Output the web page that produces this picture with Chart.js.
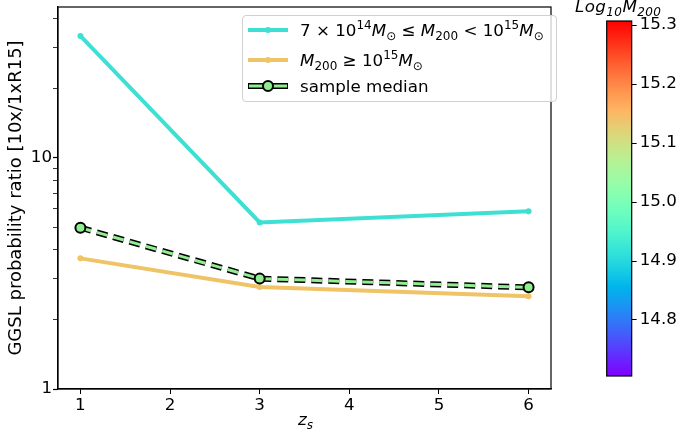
<!DOCTYPE html>
<html>
<head>
<meta charset="utf-8">
<script src="https://cdn.jsdelivr.net/npm/chart.js@4.4.1/dist/chart.umd.min.js"></script>
<style>
    body { margin: 0; background: #fff; font-family: "DejaVu Sans", sans-serif; }
    #wrap { position: relative; width: 680px; height: 434px; }
    #main { position: absolute; left: 0; top: 0; }
    #cbar { position: absolute; left: 600px; top: 0; }
    .legend {
        position: absolute; left: 242px; top: 15px; width: 315px; height: 87px;
        border: 1px solid #d0d0d0; border-radius: 4px; background: rgba(255,255,255,0.8);
        box-sizing: border-box; font-size: 16.7px; color: #000;
    }
    .row { position: absolute; left: 0; height: 24px; display: flex; align-items: center; white-space: nowrap; }
    .row svg { margin-left: 5px; margin-right: 12px; }
    sub, sup { font-size: 12px; line-height: 0; }
    .xt { position: absolute; left: 298px; top: 409px; font-size: 16.7px; font-style: italic; }
    .ct { position: absolute; left: 575px; top: -4px; font-size: 16.7px; font-style: italic; letter-spacing: 0.4px; }
</style>
</head>
<body>
<div id="wrap">
    <canvas id="main" width="680" height="434"></canvas>
    <canvas id="cbar" width="80" height="434"></canvas>
    <div class="legend">
        <div class="row" style="top:2px">
            <svg width="40" height="10"><line x1="0" y1="5" x2="40" y2="5" stroke="#3ee0d4" stroke-width="4"/><circle cx="20" cy="5" r="3" fill="#3ee0d4"/></svg>
            <span>7 × 10<sup>14</sup><i>M</i><sub>⊙</sub> ≤ <i>M</i><sub>200</sub> &lt; 10<sup>15</sup><i>M</i><sub>⊙</sub></span>
        </div>
        <div class="row" style="top:32px">
            <svg width="40" height="10"><line x1="0" y1="5" x2="40" y2="5" stroke="#efc466" stroke-width="4"/><circle cx="20" cy="5" r="3" fill="#efc466"/></svg>
            <span><i>M</i><sub>200</sub> ≥ 10<sup>15</sup><i>M</i><sub>⊙</sub></span>
        </div>
        <div class="row" style="top:58px">
            <svg width="40" height="14"><line x1="0" y1="7" x2="40" y2="7" stroke="#000" stroke-width="6"/><line x1="1" y1="7" x2="39" y2="7" stroke="#90ee90" stroke-width="3"/><circle cx="20" cy="7" r="5" fill="#90ee90" stroke="#000" stroke-width="2"/></svg>
            <span>sample median</span>
        </div>
    </div>
    <div class="xt">z<sub>s</sub></div>
    <div class="ct">Log<sub>10</sub>M<sub>200</sub></div>
</div>
<script>
// data
const zs = [1, 3, 6];
const midMass = [33.6, 5.25, 5.87];     // 7e14 <= M200 < 1e15
const highMass = [3.67, 2.76, 2.52];    // M200 >= 1e15
const sampleMedian = [4.98, 3.0, 2.75];
const xTicks = [1, 2, 3, 4, 5, 6];
const yTicks = [1, 2, 3, 4, 5, 6, 7, 8, 9, 10, 20, 30, 40];
const yLabels = [1, 10];
const cbarRange = [14.705, 15.307];
const cbarTicks = [14.8, 14.9, 15.0, 15.1, 15.2, 15.3];

const FONT = { family: 'DejaVu Sans', size: 16.7 };
Chart.defaults.color = '#000';
Chart.defaults.font.family = 'DejaVu Sans';

const pts = ys => zs.map((x, i) => ({ x: x, y: ys[i] }));

// black frame round the plot area
const framePlugin = {
    id: 'frame',
    afterDatasetsDraw(chart) {
        const a = chart.chartArea;
        const ctx = chart.ctx;
        ctx.save();
        ctx.strokeStyle = '#000';
        ctx.lineWidth = 1.2;
        ctx.strokeRect(a.left, a.top, a.right - a.left, a.bottom - a.top);
        ctx.restore();
    }
};

new Chart(document.getElementById('main'), {
    type: 'line',
    data: {
        datasets: [
            {
                data: pts(midMass), borderColor: '#3ee0d4', backgroundColor: '#3ee0d4',
                borderWidth: 4, pointRadius: 3, pointBorderWidth: 0, order: 3
            },
            {
                data: pts(highMass), borderColor: '#efc466', backgroundColor: '#efc466',
                borderWidth: 4, pointRadius: 3, pointBorderWidth: 0, order: 3
            },
            {
                data: pts(sampleMedian), borderColor: '#000', borderWidth: 6,
                borderDash: [11, 6], pointRadius: 0, order: 2
            },
            {
                data: pts(sampleMedian), borderColor: '#90ee90', borderWidth: 3,
                borderDash: [11, 6], pointRadius: 5, pointBackgroundColor: '#90ee90',
                pointBorderColor: '#000', pointBorderWidth: 2, order: 1
            }
        ]
    },
    options: {
        responsive: false,
        animation: false,
        layout: { padding: { left: 0, top: 6, right: 129, bottom: 0 } },
        plugins: { legend: { display: false }, tooltip: { enabled: false } },
        scales: {
            x: {
                type: 'linear', min: 0.75, max: 6.25,
                afterBuildTicks: s => { s.ticks = xTicks.map(v => ({ value: v })); },
                afterFit: s => { s.height = 45; s.paddingLeft = 0; s.paddingRight = 0; },
                ticks: { font: FONT, padding: 2, maxRotation: 0 },
                grid: { drawOnChartArea: false, tickLength: 5, tickColor: '#000' },
                border: { color: '#000', width: 1.2 }
            },
            y: {
                type: 'logarithmic', min: 1, max: 44.8,
                afterBuildTicks: s => { s.ticks = yTicks.map(v => ({ value: v })); },
                afterFit: s => { s.width = 58; s.paddingTop = 0; s.paddingBottom = 0; },
                ticks: {
                    font: FONT, padding: 1, autoSkip: false,
                    callback: v => yLabels.includes(v) ? String(v) : ''
                },
                grid: {
                    drawOnChartArea: false, tickColor: '#000',
                    tickLength: 5,
                    tickWidth: c => (c.tick && yLabels.includes(c.tick.value)) ? 1.2 : 0.8
                },
                border: { color: '#000', width: 1.2 },
                title: {
                    display: true, text: 'GGSL probability ratio [10x/1xR15]',
                    font: { family: 'DejaVu Sans', size: 18 }, padding: { top: 6, bottom: 4 }
                }
            }
        }
    },
    plugins: [framePlugin]
});

// matplotlib 'rainbow' colormap
function rainbow(t) {
    const r = Math.min(1, Math.abs(2 * t - 0.5));
    const g = Math.sin(Math.PI * t);
    const b = Math.cos(Math.PI * t / 2);
    return `rgb(${Math.round(r * 255)},${Math.round(g * 255)},${Math.round(Math.max(0, b) * 255)})`;
}

new Chart(document.getElementById('cbar'), {
    type: 'bar',
    data: {
        labels: [''],
        datasets: [{
            data: [cbarRange],
            barPercentage: 1, categoryPercentage: 1, borderWidth: 0,
            backgroundColor: c => {
                const a = c.chart.chartArea;
                if (!a) return '#888';
                const g = c.chart.ctx.createLinearGradient(0, a.bottom, 0, a.top);
                for (let i = 0; i <= 20; i++) g.addColorStop(i / 20, rainbow(i / 20));
                return g;
            }
        }]
    },
    options: {
        responsive: false,
        animation: false,
        layout: { padding: { left: 6.7, top: 21, right: 0, bottom: 58 } },
        plugins: { legend: { display: false }, tooltip: { enabled: false } },
        scales: {
            x: { display: false },
            y: {
                position: 'right', min: cbarRange[0], max: cbarRange[1],
                afterBuildTicks: s => { s.ticks = cbarTicks.map(v => ({ value: v })); },
                afterFit: s => { s.width = 48.3; s.paddingTop = 0; s.paddingBottom = 0; },
                ticks: { font: FONT, padding: 3, callback: v => v.toFixed(1) },
                grid: { drawOnChartArea: false, tickLength: 5, tickColor: '#000' },
                border: { display: false }
            }
        }
    },
    plugins: [framePlugin]
});
</script>
</body>
</html>
